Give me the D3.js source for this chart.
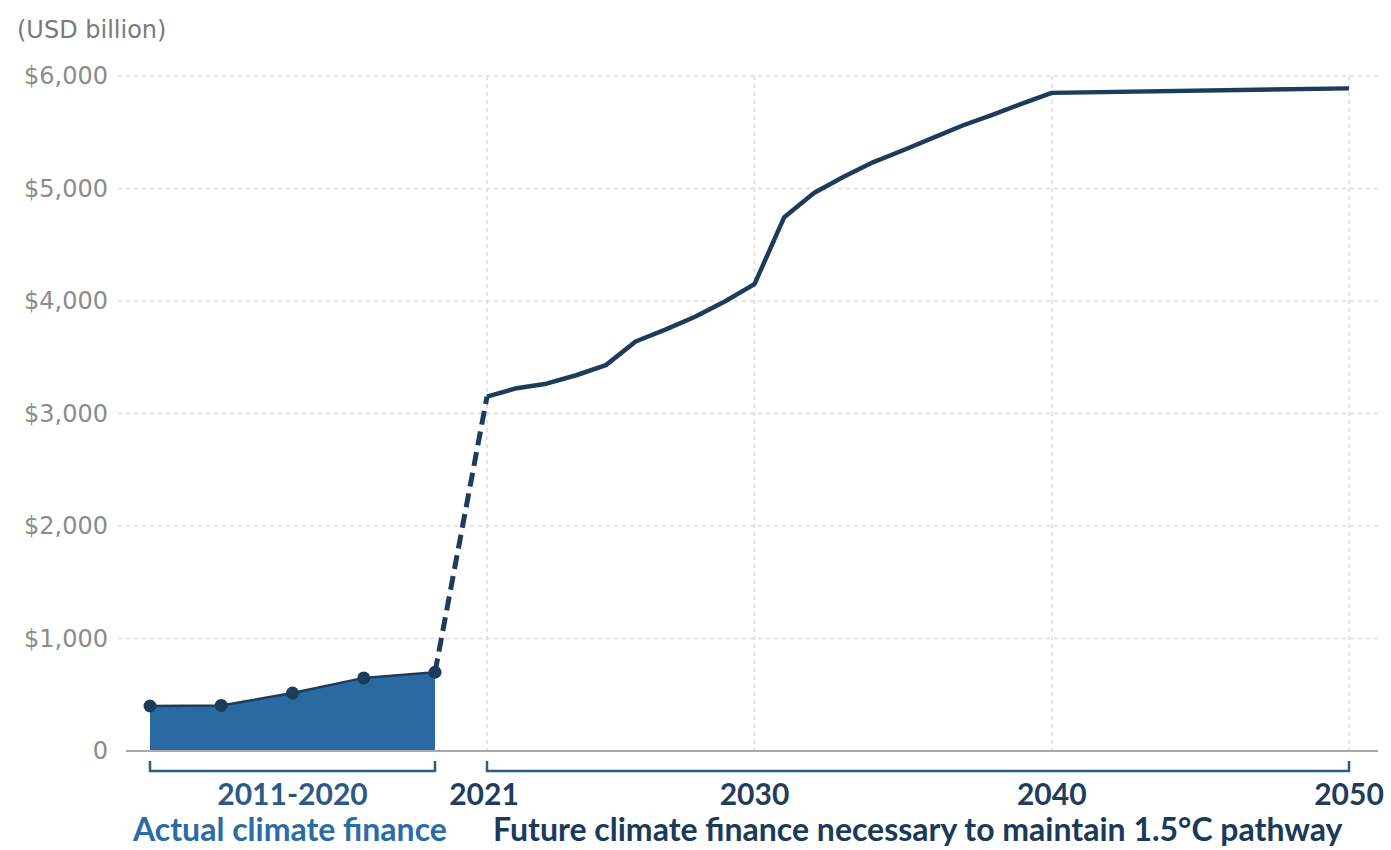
<!DOCTYPE html>
<html>
<head>
<meta charset="utf-8">
<script src="https://cdn.jsdelivr.net/npm/d3@7"></script>
<style>
  body { margin: 0; background: #ffffff; }
  text { font-family: Lato, "Open Sans", sans-serif; }
</style>
</head>
<body>
<svg id="chart"></svg>
<script>
// historic (actual) climate finance, two-year periods
const periods = ["2011-12", "2013-14", "2015-16", "2017-18", "2019-20"]
const actualValues = [400, 405, 515, 650, 700]

// needed climate finance for 1.5C pathway
const years = [2021, 2022, 2023, 2024, 2025, 2026, 2027, 2028, 2029, 2030,
  2031, 2032, 2033, 2034, 2035, 2036, 2037, 2038, 2039, 2040, 2050]
const neededValues = [3150, 3225, 3265, 3340, 3430, 3640, 3745, 3860, 3995, 4150,
  4745, 4960, 5105, 5235, 5340, 5450, 5560, 5655, 5755, 5850, 5890]

const yTicks = [0, 1000, 2000, 3000, 4000, 5000, 6000]
const yearTicks = [2021, 2030, 2040, 2050]

const width = 1391
const height = 850
const navy = "#1c3c5c"

const svg = d3.select("#chart")
  .attr("width", width)
  .attr("height", height)
  .style("background", "#FFFFFF")

const y = d3.scaleLinear().domain([0, 6000]).range([751, 76])
const xHist = d3.scalePoint().domain(periods).range([150, 435])
const xYear = d3.scaleLinear().domain([2021, 2050]).range([487, 1349])

// horizontal grid
svg.append("g")
  .selectAll("line")
  .data(yTicks.filter(d => d > 0))
  .enter()
  .append("line")
  .attr("x1", 118).attr("x2", 1382)
  .attr("y1", d => y(d)).attr("y2", d => y(d))
  .attr("stroke", "#dcdcdc")
  .attr("stroke-width", 1.5)
  .attr("stroke-dasharray", "4,4")

// vertical grid
svg.append("g")
  .selectAll("line")
  .data(yearTicks)
  .enter()
  .append("line")
  .attr("x1", d => xYear(d)).attr("x2", d => xYear(d))
  .attr("y1", y(6000)).attr("y2", y(0))
  .attr("stroke", "#dcdcdc")
  .attr("stroke-width", 1.5)
  .attr("stroke-dasharray", "4,4")

// y axis labels
const yAxis = d3.axisLeft(y)
  .tickValues(yTicks)
  .tickFormat(d => d === 0 ? "0" : "$" + d3.format(",")(d))
  .tickSize(0)
  .tickPadding(0)

svg.append("g")
  .attr("transform", "translate(108,0)")
  .call(yAxis)
  .call(g => g.select(".domain").remove())
  .selectAll("text")
  .style("font-family", "'DejaVu Sans', sans-serif")
  .style("font-size", "24px")
  .style("fill", "#8c8c8c")

svg.append("text")
  .attr("x", 17).attr("y", 38)
  .style("font-family", "'DejaVu Sans', sans-serif")
  .style("font-size", "24px")
  .style("fill", "#7a7a7a")
  .text("(USD billion)")

const histData = periods.map((p, i) => ({ p, v: actualValues[i] }))
const futureData = years.map((yr, i) => ({ yr, v: neededValues[i] }))

// actual area
svg.append("path")
  .datum(histData)
  .attr("fill", "#2a69a2")
  .attr("d", d3.area().x(d => xHist(d.p)).y0(y(0)).y1(d => y(d.v)))

svg.append("path")
  .datum(histData)
  .attr("fill", "none")
  .attr("stroke", navy)
  .attr("stroke-width", 2.5)
  .attr("d", d3.line().x(d => xHist(d.p)).y(d => y(d.v)))

// zero baseline
svg.append("line")
  .attr("x1", 126).attr("x2", 1378)
  .attr("y1", y(0)).attr("y2", y(0))
  .attr("stroke", "#a9a9a9")
  .attr("stroke-width", 2)

// dashed bridge between actual and needed
const last = histData[histData.length - 1]
svg.append("line")
  .attr("x1", xHist(last.p)).attr("y1", y(last.v))
  .attr("x2", xYear(futureData[0].yr)).attr("y2", y(futureData[0].v))
  .attr("stroke", navy)
  .attr("stroke-width", 5)
  .attr("stroke-dasharray", "14,7")

// needed line
svg.append("path")
  .datum(futureData)
  .attr("fill", "none")
  .attr("stroke", navy)
  .attr("stroke-width", 4.5)
  .attr("stroke-linejoin", "round")
  .attr("d", d3.line().x(d => xYear(d.yr)).y(d => y(d.v)))

// points
svg.append("g")
  .selectAll("circle")
  .data(histData)
  .enter()
  .append("circle")
  .attr("cx", d => xHist(d.p))
  .attr("cy", d => y(d.v))
  .attr("r", 6.5)
  .attr("fill", navy)

// brackets
const brackets = [
  [xHist(periods[0]), xHist(periods[periods.length - 1])],
  [xYear(2021), xYear(2050)]
]
brackets.forEach(([a, b]) => {
  svg.append("path")
    .attr("d", `M${a},761V771H${b}V761`)
    .attr("fill", "none")
    .attr("stroke", "#2d5c86")
    .attr("stroke-width", 2.5)
})

// bottom year labels
svg.append("text")
  .attr("x", (brackets[0][0] + brackets[0][1]) / 2)
  .attr("y", 805)
  .attr("text-anchor", "middle")
  .style("font-size", "30px")
  .style("font-weight", "bold")
  .style("fill", "#2c5a84")
  .text("2011-2020")

svg.append("g")
  .selectAll("text")
  .data(yearTicks)
  .enter()
  .append("text")
  .attr("x", d => xYear(d) - (d === 2021 ? 3 : 0))
  .attr("y", 805)
  .attr("text-anchor", "middle")
  .style("font-size", "30px")
  .style("font-weight", "bold")
  .style("fill", "#1f3d5c")
  .text(d => d)

svg.append("text")
  .attr("x", 133).attr("y", 841)
  .style("font-size", "32px")
  .style("font-weight", "bold")
  .style("fill", "#2b6ca4")
  .text("Actual climate finance")

svg.append("text")
  .attr("x", 493).attr("y", 841)
  .style("font-size", "32px")
  .style("font-weight", "bold")
  .style("fill", "#1a3a5a")
  .text("Future climate finance necessary to maintain 1.5°C pathway")
</script>
</body>
</html>
